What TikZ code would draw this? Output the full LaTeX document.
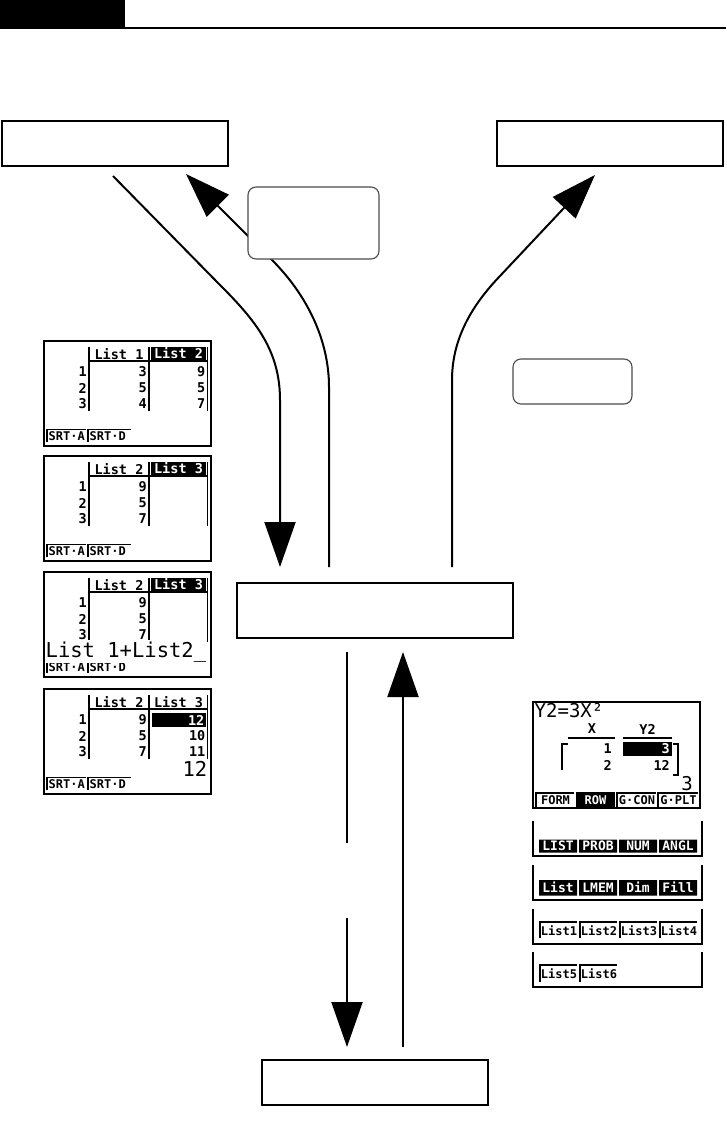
\documentclass[tikz,border=0pt]{standalone}
\usepackage{fontspec}
\newfontfamily\lcd{DejaVu Sans Mono}
\usetikzlibrary{arrows.meta}
\tikzset{
  bigbox/.style={draw, line width=2pt, inner sep=0pt, fill=white},
  roundbox/.style={draw=black!70, line width=1.1pt, rounded corners=8pt, fill=white, inner sep=0pt},
  flow/.style={line width=2pt},
  bighead/.style={-{Triangle[length=45pt,width=31pt]}},
  lcdframe/.style={line width=2.2pt},
  lcdline/.style={line width=1.8pt},
  hdr/.style={font=\lcd\bfseries\fontsize{13.5}{13.5}\selectfont, inner sep=0pt},
  num/.style={font=\lcd\bfseries\fontsize{13.5}{13.5}\selectfont, inner sep=0pt, anchor=east},
  tabtxt/.style={font=\lcd\bfseries\fontsize{12}{12}\selectfont, inner sep=0pt},
  bartxt/.style={font=\lcd\bfseries\fontsize{13}{13}\selectfont, inner sep=0pt, text=white},
  bigtxt/.style={font=\lcd\fontsize{20.5}{20.5}\selectfont, inner sep=0pt},
  midtxt/.style={font=\lcd\fontsize{19}{19}\selectfont, inner sep=0pt},
}
\newcommand\scrbase[1]{%
  \draw[lcdframe] (0,0) rectangle (167,105);
  \draw[lcdline] (45,6) -- (45,70) (105,6) -- (105,70) (163.5,6) -- (163.5,70) (45,20) -- (163.5,20);
  \node[num] (#1n1) at (43,31) {1};
  \node[num] (#1n2) at (43,47) {2};
  \node[num] (#1n3) at (43,63) {3};
  \draw[lcdline] (3,101) |- (42,88.5);
  \draw[lcdline] (44,101) |- (87,88.5);
  \node[tabtxt, anchor=west] (#1ta) at (4.5,95) {SRT·A};
  \node[tabtxt, anchor=west] (#1tb) at (45.5,95) {SRT·D};
}
\newcommand\menubar{%
  \draw[lcdframe] (0,0) |- (169,35) -- (169,0);
}
\begin{document}
\begin{tikzpicture}[x=1pt, y=-1pt]
\useasboundingbox (0,0) rectangle (726,1126);
% header bar
\fill (0,0) rectangle (125,29.5);
\draw[line width=2.4pt] (125,28.2) -- (726,28.2);

% connector end points
\coordinate (a1s) at (113,176);
\coordinate (a1e) at (280,567);
\coordinate (a2s) at (329,567);
\coordinate (a2e) at (186,174);
\coordinate (a3s) at (452,567);
\coordinate (a3e) at (595,175);
\coordinate (d1s) at (347,652);
\coordinate (d1e) at (347,843);
\coordinate (d2s) at (347,918);
\coordinate (d2e) at (347,1047);
\coordinate (e1s) at (403,1047);
\coordinate (e1e) at (403,652);

\draw[flow, bighead] (a1s) -- (220,285) .. controls (255,320) and (280,350) .. (280,400) -- (a1e);
\draw[flow, bighead] (a2s) -- (329,387) .. controls (329,340) and (307,295) .. (272,260) -- (a2e);
\draw[flow, bighead] (a3s) -- (452,380) .. controls (452,335) and (476,301) .. (500,276) -- (a3e);
\draw[flow] (d1s) -- (d1e);
\draw[flow, bighead] (d2s) -- (d2e);
\draw[flow, bighead] (e1s) -- (e1e);

% boxes
\node[bigbox, minimum width=226pt, minimum height=45pt] (tl) at (115,143.5) {};
\node[bigbox, minimum width=226pt, minimum height=45pt] (tr) at (610,143.5) {};
\node[roundbox, minimum width=131pt, minimum height=72pt] (rb1) at (313.5,223) {};
\node[roundbox, minimum width=119pt, minimum height=45pt] (rb2) at (572.5,381.5) {};
\node[bigbox, minimum width=276pt, minimum height=55pt] (mid) at (375,610.5) {};
\node[bigbox, minimum width=226pt, minimum height=45pt] (bot) at (375,1082.5) {};

% screen 1
\begin{scope}[shift={(44,341)}]
  \scrbase{sa}
  \node[hdr] (sah1) at (75,13) {List 1};
  \fill (106.5,5.5) rectangle (162,19);
  \node[hdr, text=white] (sah2) at (134.5,12.5) {List 2};
  \node[num] (sav1) at (103,31) {3};
  \node[num] (sav2) at (103,47) {5};
  \node[num] (sav3) at (103,63) {4};
  \node[num] (saw1) at (161.5,31) {9};
  \node[num] (saw2) at (161.5,47) {5};
  \node[num] (saw3) at (161.5,63) {7};
\end{scope}
% screen 2
\begin{scope}[shift={(44,456)}]
  \scrbase{sb}
  \node[hdr] (sbh1) at (75,13) {List 2};
  \fill (106.5,5.5) rectangle (162,19);
  \node[hdr, text=white] (sbh2) at (134.5,12.5) {List 3};
  \node[num] (sbv1) at (103,31) {9};
  \node[num] (sbv2) at (103,47) {5};
  \node[num] (sbv3) at (103,63) {7};
\end{scope}
% screen 3
\begin{scope}[shift={(44,572)}]
  \scrbase{sc}
  \node[hdr] (sch1) at (75,13) {List 2};
  \fill (106.5,5.5) rectangle (162,19);
  \node[hdr, text=white] (sch2) at (134.5,12.5) {List 3};
  \node[num] (scv1) at (103,31) {9};
  \node[num] (scv2) at (103,47) {5};
  \node[num] (scv3) at (103,63) {7};
  \node[bigtxt, anchor=base west, fill=white, inner ysep=1pt] (sct) at (1.5,85) {List 1+List2\_};
\end{scope}
% screen 4
\begin{scope}[shift={(44,689)}]
  \scrbase{sd}
  \node[hdr] (sdh1) at (75,13) {List 2};
  \node[hdr] (sdh2) at (134.5,13) {List 3};
  \node[num] (sdv1) at (103,31) {9};
  \node[num] (sdv2) at (103,47) {5};
  \node[num] (sdv3) at (103,63) {7};
  \fill (108,23.5) rectangle (162,38);
  \node[num, text=white] (sdw1) at (160.5,31) {12};
  \node[num] (sdw2) at (161.5,47) {10};
  \node[num] (sdw3) at (161.5,63) {11};
  \node[bigtxt, anchor=base east] (sdt) at (163.5,87.5) {12};
\end{scope}

% Y2 screen
\begin{scope}[shift={(533,702)}]
  \draw[lcdframe] (0,0) rectangle (167,106);
  \node[midtxt, anchor=base west] (yt) at (1.5,15.5) {Y2=3X²};
  \node[hdr] (yhx) at (59,27) {X};
  \node[hdr] (yhy) at (114.5,27) {Y2};
  \draw[lcdline] (35,36) -- (82,36) (90,36) -- (139,36);
  \draw[lcdline] (35,42) -| (29,68);
  \node[num] (yx1) at (79,47) {1};
  \node[num] (yx2) at (79,63) {2};
  \fill (90,40) rectangle (139,54);
  \node[num, text=white] (yy1) at (137,47) {3};
  \node[num] (yy2) at (137,63) {12};
  \draw[lcdline] (140,42) -| (145,73) -- (140,73);
  \node[midtxt, anchor=base east] (y3) at (160,88) {3};
  \draw[lcdline] (3,105) |- (41,91);
  \node[tabtxt] (ym1) at (22.5,98.5) {FORM};
  \fill (43,90) rectangle (82,105);
  \node[tabtxt, text=white] (ym2) at (62.5,98) {ROW};
  \draw[lcdline] (84,105) |- (123,91);
  \node[tabtxt] (ym3) at (104,98.5) {G·CON};
  \draw[lcdline] (125,105) |- (165,91);
  \node[tabtxt] (ym4) at (145.5,98.5) {G·PLT};
\end{scope}

% menu bar 1
\begin{scope}[shift={(533,821)}]
  \menubar
  \fill (6,18.5) rectangle (44,31.5) (46,18.5) rectangle (84,31.5) (86,18.5) rectangle (124,31.5) (126,18.5) rectangle (164,31.5);
  \node[bartxt] (m1a) at (25,25) {LIST};
  \node[bartxt] (m1b) at (65,25) {PROB};
  \node[bartxt] (m1c) at (105,25) {NUM};
  \node[bartxt] (m1d) at (145,25) {ANGL};
\end{scope}
% menu bar 2
\begin{scope}[shift={(533,865)}]
  \menubar
  \fill (6,15) rectangle (44,30.5) (46,15) rectangle (84,30.5) (86,15) rectangle (124,30.5) (126,15) rectangle (164,30.5);
  \node[bartxt] (m2a) at (25,22.5) {List};
  \node[bartxt] (m2b) at (65,22.5) {LMEM};
  \node[bartxt] (m2c) at (105,22.5) {Dim};
  \node[bartxt] (m2d) at (145,22.5) {Fill};
\end{scope}
% menu bar 3
\begin{scope}[shift={(533,909)}]
  \menubar
  \draw[lcdline] (7,29) |- (44,13) (47,29) |- (84,13) (87,29) |- (124,13) (127,29) |- (164,13);
  \node[tabtxt] (m3a) at (26,21.5) {List1};
  \node[tabtxt] (m3b) at (66,21.5) {List2};
  \node[tabtxt] (m3c) at (106,21.5) {List3};
  \node[tabtxt] (m3d) at (146,21.5) {List4};
\end{scope}
% menu bar 4
\begin{scope}[shift={(533,952)}]
  \menubar
  \draw[lcdline] (7,30) |- (44,13) (47,30) |- (84,13);
  \node[tabtxt] (m4a) at (26,22) {List5};
  \node[tabtxt] (m4b) at (66,22) {List6};
\end{scope}
\end{tikzpicture}
\end{document}
